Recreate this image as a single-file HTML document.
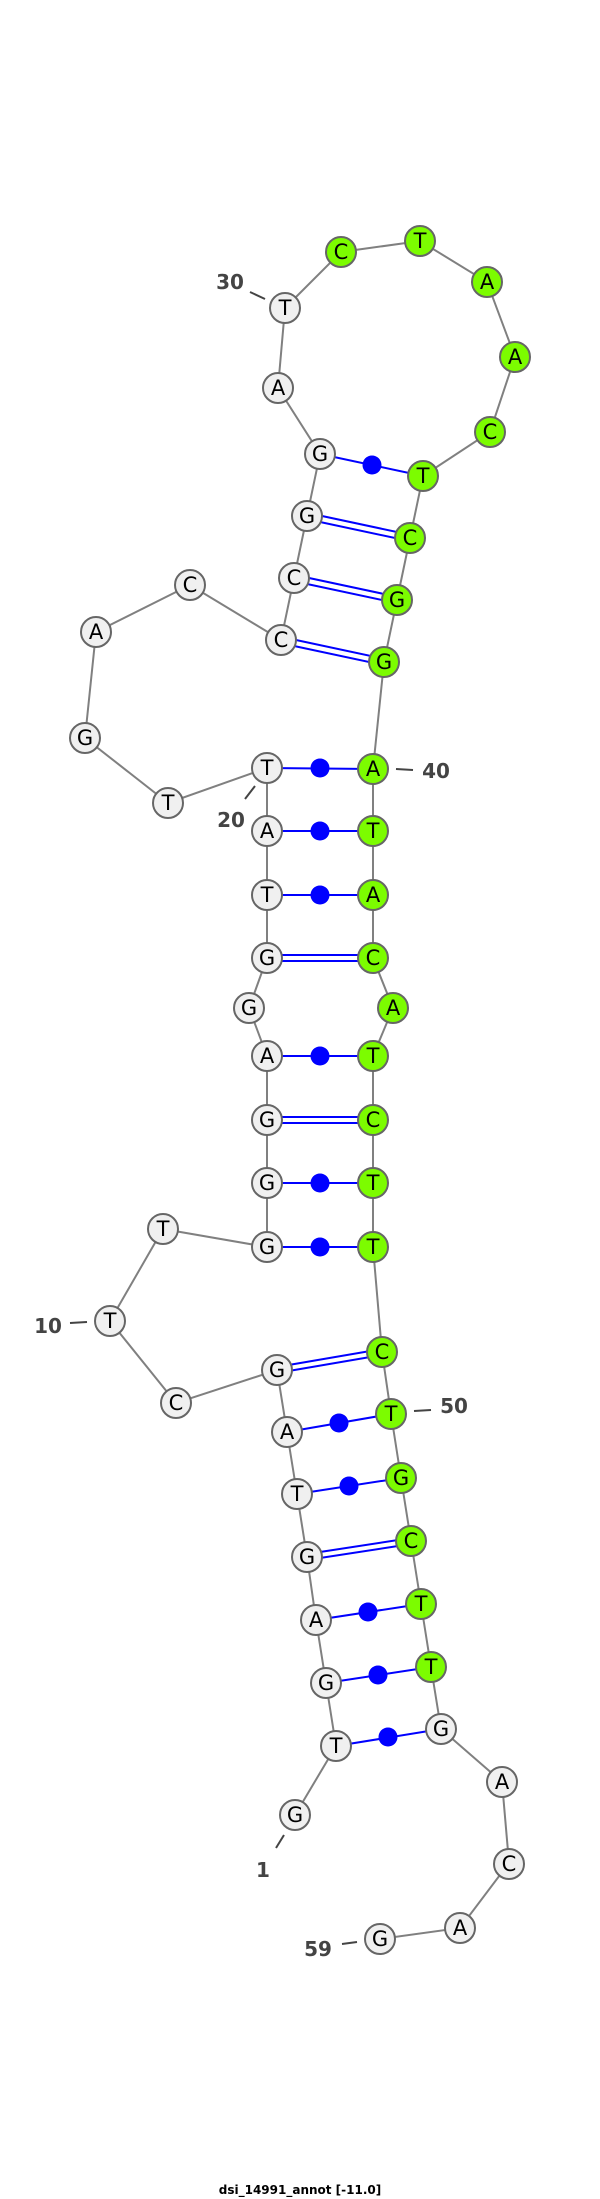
<!DOCTYPE html>
<html><head><meta charset="utf-8"><style>
html,body{margin:0;padding:0;background:#fff;width:600px;height:2199px;overflow:hidden}
svg{display:block}
.bb{stroke:#808080;stroke-width:2;fill:none}
.bp{stroke:#0000ff;stroke-width:2;fill:none}
.dot{fill:#0000ff}
.n{stroke:#666;stroke-width:2;fill:#f0f0f0}
.g{stroke:#666;stroke-width:2;fill:#7cfc00}
.t{font-family:"DejaVu Sans","Liberation Sans",sans-serif;font-size:21px;fill:#000;text-anchor:middle;dominant-baseline:central}
.l{font-family:"DejaVu Sans","Liberation Sans",sans-serif;font-size:20px;font-weight:bold;fill:#444;text-anchor:middle;dominant-baseline:central}
.tick{stroke:#444;stroke-width:2}
.title{font-family:"DejaVu Sans","Liberation Sans",sans-serif;font-size:12px;font-weight:bold;fill:#000;text-anchor:middle}
</style></head><body>
<svg width="600" height="2199" viewBox="0 0 600 2199" xmlns="http://www.w3.org/2000/svg">
<polyline class="bb" points="295,1815 336,1746 326,1683 316,1620 307,1557 297,1494 287,1432 277,1370 176,1403 110,1321 163,1229 267,1247 267,1183 267,1120 267,1056 249,1008 267,958 267,895 267,831 267,768 168,803 85,738 96,632 190,585 281,640 294,578 307,516 320,454 278,388 285,308 341,252 420,241 487,282 515,357 490,432 423,476 410,538 397,600 384,662 373,769 373,831 373,895 373,958 393,1008 373,1056 373,1120 373,1183 373,1247 382,1352 391,1414 401,1478 411,1541 421,1604 431,1667 441,1729 502,1782 509,1863 460,1928 380,1939"/>
<!-- single pairs with dots -->
<g class="bp">
<line x1="336" y1="1746" x2="441" y2="1729"/>
<line x1="326" y1="1683" x2="431" y2="1667"/>
<line x1="316" y1="1620" x2="421" y2="1604"/>
<line x1="297" y1="1494" x2="401" y2="1478"/>
<line x1="287" y1="1432" x2="391" y2="1414"/>
<line x1="267" y1="1247" x2="373" y2="1247"/>
<line x1="267" y1="1183" x2="373" y2="1183"/>
<line x1="267" y1="1056" x2="373" y2="1056"/>
<line x1="267" y1="895" x2="373" y2="895"/>
<line x1="267" y1="831" x2="373" y2="831"/>
<line x1="267" y1="768" x2="373" y2="769"/>
<line x1="320" y1="454" x2="423" y2="476"/>
<!-- double -->
<line x1="307" y1="1554" x2="411" y2="1538"/><line x1="307" y1="1560" x2="411" y2="1544"/>
<line x1="277" y1="1367" x2="382" y2="1349"/><line x1="277" y1="1373" x2="382" y2="1355"/>
<line x1="267" y1="1117" x2="373" y2="1117"/><line x1="267" y1="1123" x2="373" y2="1123"/>
<line x1="267" y1="955" x2="373" y2="955"/><line x1="267" y1="961" x2="373" y2="961"/>
<line x1="282" y1="637" x2="385" y2="659"/><line x1="280" y1="643" x2="383" y2="665"/>
<line x1="295" y1="575" x2="398" y2="597"/><line x1="293" y1="581" x2="396" y2="603"/>
<line x1="308" y1="513" x2="411" y2="535"/><line x1="306" y1="519" x2="409" y2="541"/>
</g>
<g class="dot">
<circle cx="388" cy="1737" r="9.5"/><circle cx="378" cy="1675" r="9.5"/><circle cx="368" cy="1612" r="9.5"/>
<circle cx="349" cy="1486" r="9.5"/><circle cx="339" cy="1423" r="9.5"/>
<circle cx="320" cy="1247" r="9.5"/><circle cx="320" cy="1183" r="9.5"/><circle cx="320" cy="1056" r="9.5"/>
<circle cx="320" cy="895" r="9.5"/><circle cx="320" cy="831" r="9.5"/><circle cx="320" cy="768" r="9.5"/>
<circle cx="372" cy="465" r="9.5"/>
</g>
<!-- ticks & labels -->
<line class="tick" x1="250" y1="292" x2="265" y2="299"/><text class="l" x="230" y="282">30</text>
<line class="tick" x1="396" y1="769" x2="413" y2="770"/><text class="l" x="436" y="771">40</text>
<line class="tick" x1="255" y1="786" x2="245" y2="799"/><text class="l" x="231" y="820">20</text>
<line class="tick" x1="70" y1="1323" x2="87" y2="1322"/><text class="l" x="48" y="1326">10</text>
<line class="tick" x1="414" y1="1411" x2="431" y2="1410"/><text class="l" x="454" y="1406">50</text>
<line class="tick" x1="284" y1="1835" x2="276" y2="1848"/><text class="l" x="263" y="1870">1</text>
<line class="tick" x1="342" y1="1944" x2="357" y2="1942"/><text class="l" x="318" y="1949">59</text>
<!-- nodes -->
<g>
<circle class="n" cx="295" cy="1815" r="15"/><text class="t" x="295" y="1815">G</text>
<circle class="n" cx="336" cy="1746" r="15"/><text class="t" x="336" y="1746">T</text>
<circle class="n" cx="326" cy="1683" r="15"/><text class="t" x="326" y="1683">G</text>
<circle class="n" cx="316" cy="1620" r="15"/><text class="t" x="316" y="1620">A</text>
<circle class="n" cx="307" cy="1557" r="15"/><text class="t" x="307" y="1557">G</text>
<circle class="n" cx="297" cy="1494" r="15"/><text class="t" x="297" y="1494">T</text>
<circle class="n" cx="287" cy="1432" r="15"/><text class="t" x="287" y="1432">A</text>
<circle class="n" cx="277" cy="1370" r="15"/><text class="t" x="277" y="1370">G</text>
<circle class="n" cx="176" cy="1403" r="15"/><text class="t" x="176" y="1403">C</text>
<circle class="n" cx="110" cy="1321" r="15"/><text class="t" x="110" y="1321">T</text>
<circle class="n" cx="163" cy="1229" r="15"/><text class="t" x="163" y="1229">T</text>
<circle class="n" cx="267" cy="1247" r="15"/><text class="t" x="267" y="1247">G</text>
<circle class="n" cx="267" cy="1183" r="15"/><text class="t" x="267" y="1183">G</text>
<circle class="n" cx="267" cy="1120" r="15"/><text class="t" x="267" y="1120">G</text>
<circle class="n" cx="267" cy="1056" r="15"/><text class="t" x="267" y="1056">A</text>
<circle class="n" cx="249" cy="1008" r="15"/><text class="t" x="249" y="1008">G</text>
<circle class="n" cx="267" cy="958" r="15"/><text class="t" x="267" y="958">G</text>
<circle class="n" cx="267" cy="895" r="15"/><text class="t" x="267" y="895">T</text>
<circle class="n" cx="267" cy="831" r="15"/><text class="t" x="267" y="831">A</text>
<circle class="n" cx="267" cy="768" r="15"/><text class="t" x="267" y="768">T</text>
<circle class="n" cx="168" cy="803" r="15"/><text class="t" x="168" y="803">T</text>
<circle class="n" cx="85" cy="738" r="15"/><text class="t" x="85" y="738">G</text>
<circle class="n" cx="96" cy="632" r="15"/><text class="t" x="96" y="632">A</text>
<circle class="n" cx="190" cy="585" r="15"/><text class="t" x="190" y="585">C</text>
<circle class="n" cx="281" cy="640" r="15"/><text class="t" x="281" y="640">C</text>
<circle class="n" cx="294" cy="578" r="15"/><text class="t" x="294" y="578">C</text>
<circle class="n" cx="307" cy="516" r="15"/><text class="t" x="307" y="516">G</text>
<circle class="n" cx="320" cy="454" r="15"/><text class="t" x="320" y="454">G</text>
<circle class="n" cx="278" cy="388" r="15"/><text class="t" x="278" y="388">A</text>
<circle class="n" cx="285" cy="308" r="15"/><text class="t" x="285" y="308">T</text>
<circle class="g" cx="341" cy="252" r="15"/><text class="t" x="341" y="252">C</text>
<circle class="g" cx="420" cy="241" r="15"/><text class="t" x="420" y="241">T</text>
<circle class="g" cx="487" cy="282" r="15"/><text class="t" x="487" y="282">A</text>
<circle class="g" cx="515" cy="357" r="15"/><text class="t" x="515" y="357">A</text>
<circle class="g" cx="490" cy="432" r="15"/><text class="t" x="490" y="432">C</text>
<circle class="g" cx="423" cy="476" r="15"/><text class="t" x="423" y="476">T</text>
<circle class="g" cx="410" cy="538" r="15"/><text class="t" x="410" y="538">C</text>
<circle class="g" cx="397" cy="600" r="15"/><text class="t" x="397" y="600">G</text>
<circle class="g" cx="384" cy="662" r="15"/><text class="t" x="384" y="662">G</text>
<circle class="g" cx="373" cy="769" r="15"/><text class="t" x="373" y="769">A</text>
<circle class="g" cx="373" cy="831" r="15"/><text class="t" x="373" y="831">T</text>
<circle class="g" cx="373" cy="895" r="15"/><text class="t" x="373" y="895">A</text>
<circle class="g" cx="373" cy="958" r="15"/><text class="t" x="373" y="958">C</text>
<circle class="g" cx="393" cy="1008" r="15"/><text class="t" x="393" y="1008">A</text>
<circle class="g" cx="373" cy="1056" r="15"/><text class="t" x="373" y="1056">T</text>
<circle class="g" cx="373" cy="1120" r="15"/><text class="t" x="373" y="1120">C</text>
<circle class="g" cx="373" cy="1183" r="15"/><text class="t" x="373" y="1183">T</text>
<circle class="g" cx="373" cy="1247" r="15"/><text class="t" x="373" y="1247">T</text>
<circle class="g" cx="382" cy="1352" r="15"/><text class="t" x="382" y="1352">C</text>
<circle class="g" cx="391" cy="1414" r="15"/><text class="t" x="391" y="1414">T</text>
<circle class="g" cx="401" cy="1478" r="15"/><text class="t" x="401" y="1478">G</text>
<circle class="g" cx="411" cy="1541" r="15"/><text class="t" x="411" y="1541">C</text>
<circle class="g" cx="421" cy="1604" r="15"/><text class="t" x="421" y="1604">T</text>
<circle class="g" cx="431" cy="1667" r="15"/><text class="t" x="431" y="1667">T</text>
<circle class="n" cx="441" cy="1729" r="15"/><text class="t" x="441" y="1729">G</text>
<circle class="n" cx="502" cy="1782" r="15"/><text class="t" x="502" y="1782">A</text>
<circle class="n" cx="509" cy="1864" r="15"/><text class="t" x="509" y="1864">C</text>
<circle class="n" cx="460" cy="1928" r="15"/><text class="t" x="460" y="1928">A</text>
<circle class="n" cx="380" cy="1939" r="15"/><text class="t" x="380" y="1939">G</text>
</g>
<text class="title" x="300" y="2194">dsi_14991_annot [-11.0]</text>
</svg>
</body></html>
